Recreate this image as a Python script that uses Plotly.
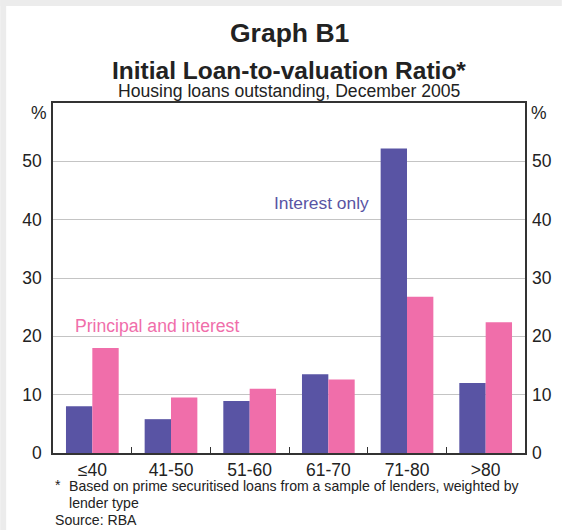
import plotly.graph_objects as go

categories = ["≤40", "41-50", "51-60", "61-70", "71-80", ">80"]
interest_only = [8.0, 5.8, 8.9, 13.5, 52.2, 12.0]
principal_interest = [18.0, 9.5, 11.0, 12.6, 26.8, 22.4]
y_ticks = [0, 10, 20, 30, 40, 50]

BLUE = "#5954a4"
PINK = "#f06eaa"
FONT = "Liberation Sans, Arial, sans-serif"

W, H = 564, 530
L, R, T, B = 53, 527, 103, 453


def px(X):
    return (X - L) / (R - L)


def py(Y):
    return (B - Y) / (B - T)


fig = go.Figure()
fig.add_trace(go.Bar(x=categories, y=interest_only, marker_color=BLUE,
                     marker_line_width=0, name="Interest only"))
fig.add_trace(go.Bar(x=categories, y=principal_interest, marker_color=PINK,
                     marker_line_width=0, name="Principal and interest"))
fig.add_trace(go.Scatter(x=[categories[0]], y=[None], yaxis="y2",
                         showlegend=False, hoverinfo="skip"))

fig.update_layout(
    width=W, height=H,
    margin=dict(l=L, r=W - R, t=T, b=H - B, pad=0),
    paper_bgcolor="white", plot_bgcolor="white",
    showlegend=False,
    barmode="group", bargap=0.33, bargroupgap=0,
    font=dict(family=FONT, size=17, color="#222222"),
    xaxis=dict(
        showline=True, linecolor="#333333", linewidth=1.5, mirror=True,
        ticks="inside", tickson="boundaries", ticklen=6, tickcolor="#333333",
        showgrid=False, tickfont=dict(size=17.5, color="#222222"),
    ),
    yaxis=dict(
        range=[0, 60], tickvals=y_ticks, showline=True, linecolor="#333333",
        linewidth=1.5, mirror=True, showgrid=True, gridcolor="#c4c4c4",
        gridwidth=1, zeroline=False, ticks="", ticklabelstandoff=6,
        tickfont=dict(size=17.5, color="#222222"),
    ),
    yaxis2=dict(
        range=[0, 60], tickvals=y_ticks, overlaying="y", side="right",
        showline=False, showgrid=False, zeroline=False, ticks="",
        ticklabelstandoff=6, tickfont=dict(size=17.5, color="#222222"),
    ),
    shapes=[
        dict(type="rect", xref="paper", yref="paper", x0=px(0), x1=px(W),
             y0=py(0), y1=py(6), fillcolor="#ececec", line_width=0, layer="below"),
        dict(type="rect", xref="paper", yref="paper", x0=px(0), x1=px(6),
             y0=py(0), y1=py(H), fillcolor="#ececec", line_width=0, layer="below"),
    ],
)

ann = [
    dict(text="<b>Graph B1</b>", x=px(291), y=py(33), size=26.5),
    dict(text="<b>Initial Loan-to-valuation Ratio*</b>", x=px(290), y=py(70), size=24.5),
    dict(text="Housing loans outstanding, December 2005", x=px(290), y=py(91), size=17.6),
    dict(text="%", x=px(39), y=py(113), size=17.5),
    dict(text="%", x=px(541), y=py(113), size=17.5),
    dict(text="Interest only", x=px(323), y=py(203), size=17.4, color=BLUE),
    dict(text="Principal and interest", x=px(157), y=py(326), size=17.6, color=PINK),
]
for a in ann:
    fig.add_annotation(text=a["text"], x=a["x"], y=a["y"], xref="paper", yref="paper",
                       showarrow=False, xanchor="center", yanchor="middle",
                       font=dict(family=FONT, size=a["size"], color=a.get("color", "#222222")))

foot = [
    ("*", 53, 485),
    ("Based on prime securitised loans from a sample of lenders, weighted by", 67, 486),
    ("lender type", 67, 503),
    ("Source: RBA", 53, 520),
]
for t, X, Y in foot:
    fig.add_annotation(text=t, x=px(X), y=py(Y), xref="paper", yref="paper",
                       showarrow=False, xanchor="left", yanchor="middle",
                       font=dict(family=FONT, size=14.1, color="#222222"))

fig.write_html(
    "out.html",
    config={"displayModeBar": False},
    post_script="document.body.style.margin='0';"
                "document.documentElement.style.overflow='hidden';",
)
